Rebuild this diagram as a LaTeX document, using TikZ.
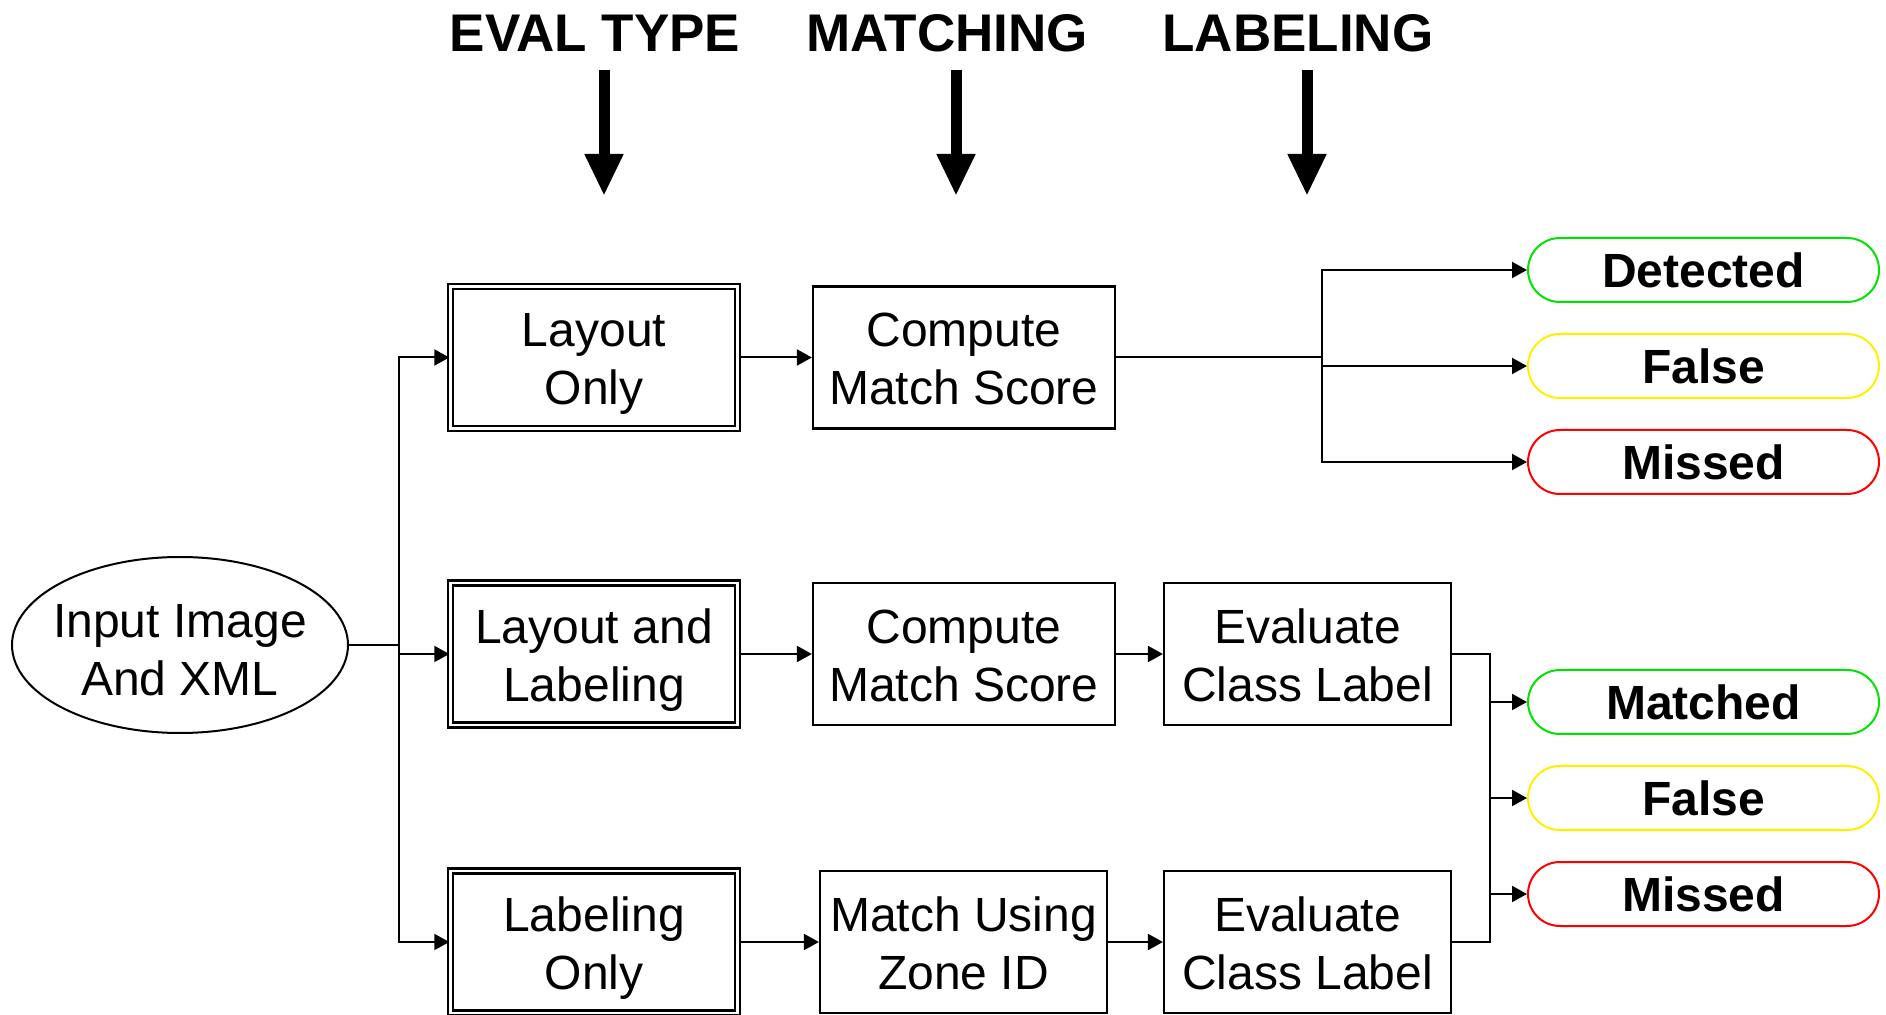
\documentclass[tikz,border=0pt]{standalone}
\usepackage{fontspec}
\setmainfont{Liberation Sans}
\usetikzlibrary{arrows.meta}
\usetikzlibrary{shapes.geometric}
\usetikzlibrary{shapes.misc}

\definecolor{hitgreen}{RGB}{0,228,0}
\definecolor{falseyellow}{RGB}{255,240,0}
\definecolor{missred}{RGB}{255,0,0}

\newcommand{\boxstrut}{\rule{0pt}{24.5pt}}
\newcommand{\boxfoot}{\rule[-6pt]{0pt}{6pt}}

\tikzset{
    stagebox/.style={draw, line width=1.1pt, minimum width=143.5pt, minimum height=71pt,
        inner sep=0pt, align=center, font=\fontsize{24}{29}\selectfont},
    evalbox/.style={stagebox, double, line width=1.2pt, double distance=1.4pt},
    resultbox/.style={draw, rounded rectangle, line width=1pt, minimum width=175.5pt,
        minimum height=32pt, inner sep=0pt, font=\fontsize{24}{29}\selectfont\bfseries},
    header/.style={anchor=base, font=\fontsize{26.5}{30}\selectfont\bfseries},
    wire/.style={line width=1pt},
    link/.style={wire, -{Triangle[length=7.5pt,width=8pt]}},
    bigarrow/.style={line width=5.5pt, -{Triangle[length=21pt,width=18pt]}},
}

\begin{document}
\begin{tikzpicture}[x=0.5pt, y=-0.5pt]
    \useasboundingbox (0,0) rectangle (1886,1015);

    % column titles
    \node[header] (hdtype) at (595,52) {EVAL TYPE};
    \node[header] (hdmatch) at (947,52) {MATCHING};
    \node[header] (hdlabel) at (1298,52) {LABELING};
    \draw[bigarrow] (hdtype.base) ++(9,18) -- ++(0,126);
    \draw[bigarrow] (hdmatch.base) ++(9,18) -- ++(0,126);
    \draw[bigarrow] (hdlabel.base) ++(9,18) -- ++(0,126);

    \node[ellipse, draw, line width=1pt, minimum width=168pt, minimum height=88pt,
        inner xsep=-5pt, inner ysep=0pt, align=center,
        font=\fontsize{24}{29}\selectfont] (input) at (180,645) {\rule{0pt}{22pt}Input Image\\And XML};

    \node[evalbox] (layonly) at (594,357.5) {\boxstrut Layout\\Only\boxfoot};
    \node[evalbox] (laylab) at (594,654) {\boxstrut Layout and\\Labeling\boxfoot};
    \node[evalbox] (labonly) at (594,942) {\boxstrut Labeling\\Only\boxfoot};

    \node[stagebox, minimum width=151pt] (score1) at (964,357.5) {\boxstrut Compute\\Match Score\boxfoot};
    \node[stagebox, minimum width=151pt] (score2) at (964,654) {\boxstrut Compute\\Match Score\boxfoot};
    \node[stagebox] (zoneid) at (963.5,942) {\boxstrut Match Using\\Zone ID\boxfoot};

    \node[stagebox] (class1) at (1307.5,654) {\boxstrut Evaluate\\Class Label\boxfoot};
    \node[stagebox] (class2) at (1307.5,942) {\boxstrut Evaluate\\Class Label\boxfoot};

    \node[resultbox, draw=hitgreen] (detected) at (1703.5,270) {Detected};
    \node[resultbox, draw=falseyellow] (false1) at (1703.5,366) {False};
    \node[resultbox, draw=missred] (missed1) at (1703.5,462) {Missed};
    \node[resultbox, draw=hitgreen] (matched) at (1703.5,702) {Matched};
    \node[resultbox, draw=falseyellow] (false2) at (1703.5,798) {False};
    \node[resultbox, draw=missred] (missed2) at (1703.5,894) {Missed};

    % input fan-out
    \coordinate (fork) at (399,645);
    \draw[wire] (input.east) -- (fork);
    \draw[link] (fork) |- (layonly.west);
    \draw[link] (fork) |- (laylab.west);
    \draw[link] (fork) |- (labonly.west);

    \draw[link] (layonly.east) -- (score1.west);
    \draw[link] (laylab.east) -- (score2.west);
    \draw[link] (labonly.east) -- (zoneid.west);
    \draw[link] (score2.east) -- (class1.west);
    \draw[link] (zoneid.east) -- (class2.west);

    % outcomes
    \coordinate (split1) at (1322,357.5);
    \draw[wire] (score1.east) -- (split1);
    \draw[link] (split1) |- (detected.west);
    \draw[link] (split1) |- (false1.west);
    \draw[link] (split1) |- (missed1.west);

    \coordinate (split2) at (1490,798);
    \draw[wire] (class1.east) -| (split2) |- (class2.east);
    \draw[link] (split2) |- (matched.west);
    \draw[link] (split2) |- (false2.west);
    \draw[link] (split2) |- (missed2.west);
\end{tikzpicture}
\end{document}
